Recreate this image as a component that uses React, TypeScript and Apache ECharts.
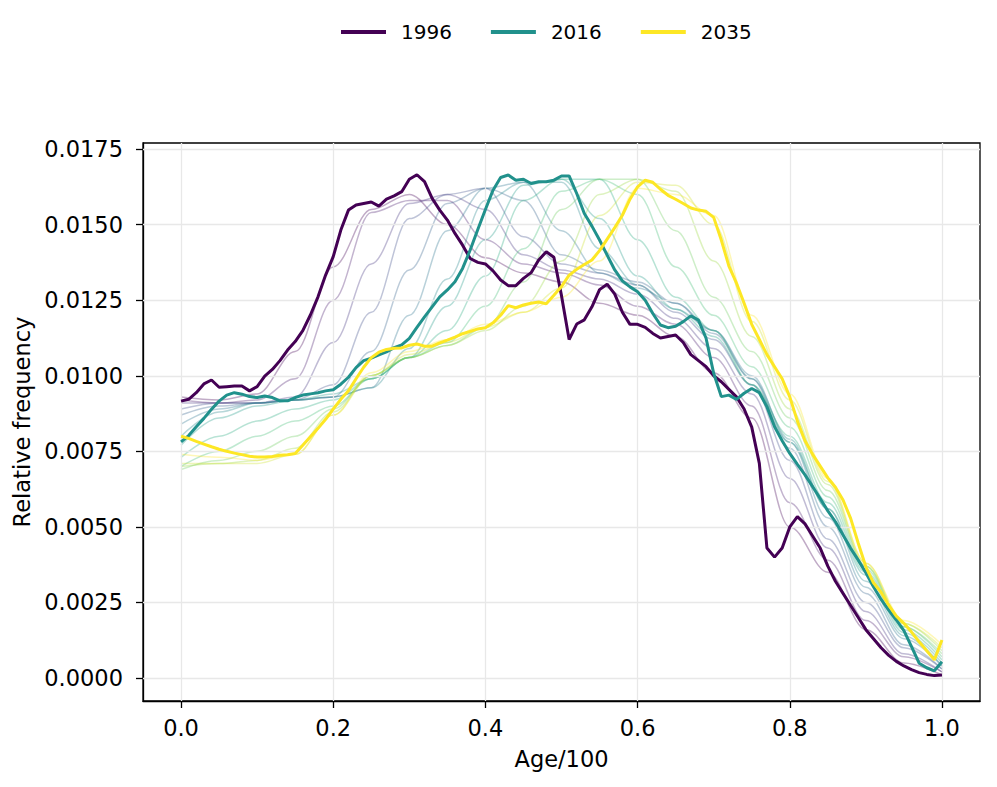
import React, { useEffect, useRef } from "react";
import * as echarts from "echarts";

// ---------- data ----------
const AGES: number[] = Array.from({ length: 101 }, (_, i) => i / 100);

const Y1996 = [
  0.00916, 0.00922, 0.00944, 0.00973, 0.00986, 0.00962, 0.00964, 0.00966, 0.00966, 0.0095,
  0.00964, 0.00999, 0.01021, 0.0105, 0.01085, 0.01113, 0.01149, 0.01201, 0.01261, 0.01333,
  0.01394, 0.01482, 0.01548, 0.01565, 0.0157, 0.01575, 0.01561, 0.01584, 0.01595, 0.01609,
  0.0165, 0.01665, 0.01642, 0.01587, 0.01548, 0.01515, 0.01471, 0.01432, 0.01388, 0.01375,
  0.0137, 0.01347, 0.01317, 0.01298, 0.01298, 0.01322, 0.01341, 0.01383, 0.0141, 0.01392,
  0.01265, 0.0112, 0.01171, 0.01185, 0.01228, 0.01285, 0.01303, 0.0127, 0.0121, 0.0117,
  0.0117, 0.0116, 0.0114, 0.01125, 0.0113, 0.01135, 0.0111, 0.0107, 0.0105, 0.0103,
  0.01, 0.0098, 0.00955, 0.0093, 0.0089, 0.0083, 0.0071, 0.0043, 0.004, 0.0043,
  0.005, 0.00534, 0.0051, 0.0047, 0.0043, 0.0037, 0.0032, 0.0028, 0.0024, 0.002,
  0.0016, 0.0013, 0.001, 0.00075, 0.00055, 0.0004, 0.00028, 0.00018, 0.00012, 0.00008,
  0.0001,
];

const Y2016 = [
  0.00781, 0.00802, 0.00831, 0.00859, 0.00889, 0.00916, 0.00936, 0.00944, 0.00939, 0.00931,
  0.00928, 0.00933, 0.00928, 0.00917, 0.00917, 0.00928, 0.00936, 0.0094, 0.00944, 0.0095,
  0.00954, 0.00972, 0.00995, 0.01027, 0.0105, 0.01058, 0.01069, 0.01079, 0.01093, 0.01102,
  0.01124, 0.0116, 0.01195, 0.01228, 0.01261, 0.01284, 0.01311, 0.01355, 0.01416, 0.01484,
  0.0155, 0.01614, 0.01656, 0.01664, 0.01647, 0.0165, 0.01636, 0.01642, 0.01642, 0.01647,
  0.01661, 0.01661, 0.01603, 0.01537, 0.01495, 0.01449, 0.01399, 0.0135, 0.01314, 0.01294,
  0.01278, 0.0125, 0.01206, 0.01168, 0.01159, 0.01164, 0.01179, 0.01198, 0.01184, 0.01124,
  0.01008, 0.00931, 0.00936, 0.00922, 0.00942, 0.00958, 0.00944, 0.00897, 0.00831, 0.00785,
  0.00743, 0.00707, 0.00672, 0.00633, 0.00594, 0.00553, 0.00517, 0.00473, 0.00429, 0.0039,
  0.00348, 0.00302, 0.0026, 0.00225, 0.00192, 0.00157, 0.00104, 0.00049, 0.00034, 0.00024,
  0.00054,
];

const Y2035 = [
  0.008, 0.00793, 0.00783, 0.00774, 0.00765, 0.00757, 0.0075, 0.00744, 0.00739, 0.00734,
  0.00731, 0.00731, 0.00733, 0.00737, 0.00739, 0.00743, 0.0077, 0.00798, 0.00826, 0.00856,
  0.0089, 0.00922, 0.0095, 0.0099, 0.01028, 0.0106, 0.01078, 0.01087, 0.01091, 0.01092,
  0.01101, 0.01105, 0.01098, 0.01098, 0.01109, 0.01118, 0.01128, 0.01139, 0.01147, 0.01155,
  0.01159, 0.01175, 0.012, 0.01232, 0.01225, 0.01234, 0.0124, 0.01244, 0.01238, 0.01266,
  0.01295, 0.01333, 0.01352, 0.01368, 0.01383, 0.01414, 0.01452, 0.0149, 0.01531, 0.01584,
  0.01625, 0.01647, 0.0164, 0.01617, 0.01597, 0.01584, 0.0157, 0.01555, 0.01548, 0.01544,
  0.01524, 0.01449, 0.01363, 0.01306, 0.0124, 0.0117, 0.0112, 0.0107, 0.0103, 0.0099,
  0.0093, 0.0085, 0.00785, 0.0074, 0.00701, 0.00662, 0.00631, 0.00589, 0.00528, 0.00446,
  0.00368, 0.00315, 0.00284, 0.00241, 0.00205, 0.00181, 0.00152, 0.0012, 0.0009, 0.0006,
  0.00126,
];

const THIN_AGES = [0, 0.05, 0.1, 0.15, 0.2, 0.25, 0.3, 0.35, 0.4, 0.45, 0.5, 0.55, 0.6, 0.65, 0.7, 0.75, 0.8, 0.85, 0.9, 0.95, 1];

const T1996 = [0.0093, 0.0092, 0.0094, 0.0108, 0.0136, 0.0155, 0.016, 0.015, 0.0139, 0.0134, 0.0131, 0.0124, 0.012, 0.0113, 0.0101, 0.0086, 0.005, 0.0035, 0.0016, 0.0005, 0.0001];
const T1999 = [0.0092, 0.0091, 0.0092, 0.0099, 0.0125, 0.0154, 0.0158, 0.0158, 0.0145, 0.0137, 0.0134, 0.013, 0.0123, 0.0117, 0.0106, 0.009, 0.0058, 0.0039, 0.0019, 0.0007, 0.0002];
const T2002 = [0.0091, 0.0091, 0.0091, 0.0093, 0.0111, 0.0137, 0.0157, 0.016, 0.0155, 0.014, 0.0135, 0.0132, 0.0127, 0.0119, 0.0109, 0.0094, 0.0066, 0.0043, 0.0022, 0.0008, 0.0002];
const T2005 = [0.0089, 0.0091, 0.0091, 0.0092, 0.0097, 0.0121, 0.0152, 0.016, 0.0162, 0.0146, 0.0137, 0.0134, 0.013, 0.0121, 0.0112, 0.0097, 0.0072, 0.0046, 0.0025, 0.001, 0.0003];
const T2008 = [0.0087, 0.009, 0.0091, 0.0092, 0.0093, 0.0108, 0.0135, 0.0157, 0.0162, 0.0158, 0.014, 0.0135, 0.0131, 0.0124, 0.0114, 0.0099, 0.0076, 0.005, 0.0028, 0.0011, 0.0003];
const T2011 = [0.0084, 0.0089, 0.0091, 0.0092, 0.0093, 0.0096, 0.012, 0.0148, 0.0162, 0.0164, 0.0148, 0.0134, 0.0129, 0.0124, 0.0115, 0.01, 0.0078, 0.0053, 0.003, 0.0013, 0.0004];
const T2014 = [0.008, 0.0088, 0.0091, 0.0092, 0.0093, 0.0096, 0.0109, 0.0132, 0.0158, 0.0164, 0.0164, 0.0142, 0.013, 0.0122, 0.0115, 0.0099, 0.0079, 0.0056, 0.0032, 0.0014, 0.0004];
const T2017 = [0.0077, 0.0086, 0.009, 0.0092, 0.0094, 0.0099, 0.0106, 0.0123, 0.0145, 0.0163, 0.0165, 0.0152, 0.0133, 0.0122, 0.0113, 0.0097, 0.0078, 0.0056, 0.0034, 0.0015, 0.0005];
const T2020 = [0.0073, 0.008, 0.0085, 0.0089, 0.0092, 0.0099, 0.0106, 0.0115, 0.0133, 0.0158, 0.0165, 0.0165, 0.0145, 0.0126, 0.0115, 0.0097, 0.008, 0.0058, 0.0035, 0.0016, 0.0006];
const T2023 = [0.007, 0.0075, 0.008, 0.0085, 0.009, 0.0099, 0.0106, 0.0111, 0.0123, 0.0142, 0.0161, 0.0165, 0.016, 0.0136, 0.012, 0.0103, 0.0083, 0.006, 0.0036, 0.0017, 0.0007];
const T2026 = [0.0069, 0.0072, 0.0075, 0.008, 0.0089, 0.01, 0.0106, 0.011, 0.0116, 0.0131, 0.0155, 0.0165, 0.0165, 0.0148, 0.0126, 0.0108, 0.0086, 0.0062, 0.0037, 0.0017, 0.0008];
const T2029 = [0.007, 0.0071, 0.0072, 0.0076, 0.0088, 0.01, 0.0106, 0.011, 0.0115, 0.0123, 0.0138, 0.016, 0.0165, 0.0161, 0.0138, 0.0113, 0.0089, 0.0064, 0.0037, 0.0018, 0.0009];
const T2032 = [0.0071, 0.0071, 0.0071, 0.0074, 0.0087, 0.01, 0.0107, 0.0111, 0.0116, 0.0121, 0.0129, 0.0153, 0.0164, 0.0163, 0.015, 0.0118, 0.0092, 0.0065, 0.0038, 0.0018, 0.001];
const T2035 = [0.0074, 0.0073, 0.0072, 0.0074, 0.0087, 0.0101, 0.0108, 0.0112, 0.0117, 0.0121, 0.0126, 0.0138, 0.0162, 0.016, 0.0153, 0.012, 0.0094, 0.0066, 0.0038, 0.0019, 0.0011];

const THIN_YEARS = [1996, 1999, 2002, 2005, 2008, 2011, 2014, 2017, 2020, 2023, 2026, 2029, 2032, 2035];
const THIN_VALUES = [T1996, T1999, T2002, T2005, T2008, T2011, T2014, T2017, T2020, T2023, T2026, T2029, T2032, T2035];
const THIN_COLORS = ["#440154", "#481c6e", "#44357f", "#3d4c89", "#34618d", "#2c748e", "#24878d", "#219a89", "#27ab81", "#41bd72", "#69cb5b", "#99d73d", "#cce126", "#fde725"];

const MAIN_NAMES = ["1996", "2016", "2035"];
const MAIN_VALUES = [Y1996, Y2016, Y2035];
const MAIN_COLORS = ["#440154", "#21918c", "#fde725"];

const X_TICKS = [0, 0.2, 0.4, 0.6, 0.8, 1.0];
const Y_TICKS = [0, 0.0025, 0.005, 0.0075, 0.01, 0.0125, 0.015, 0.0175];
const X_MIN = -0.05;
const X_MAX = 1.05;
const Y_MIN = -0.00076;
const Y_MAX = 0.0177;

const FONT = "DejaVu Sans";

export default function App() {
  const ref = useRef<HTMLDivElement>(null);

  useEffect(() => {
    document.body.style.margin = "0";
    if (!ref.current) return;
    const chart = echarts.init(ref.current, undefined, { renderer: "svg" });

    const thinSeries = THIN_VALUES.map((vals, i) => ({
      name: "thin-" + THIN_YEARS[i],
      type: "line",
      data: THIN_AGES.map((a, j) => [a, vals[j]]),
      smooth: 0.35,
      smoothMonotone: "x",
      symbol: "none",
      silent: true,
      z: 3,
      lineStyle: { color: THIN_COLORS[i], width: 1.5, opacity: 0.33 },
      itemStyle: { color: THIN_COLORS[i] },
    }));

    const mainSeries = MAIN_VALUES.map((vals, i) => ({
      name: MAIN_NAMES[i],
      type: "line",
      data: AGES.map((a, j) => [a, vals[j]]),
      symbol: "none",
      z: 5 + i,
      lineStyle: { color: MAIN_COLORS[i], width: 3 },
      itemStyle: { color: MAIN_COLORS[i] },
    }));

    const gridSeries = {
      name: "grid",
      type: "line",
      data: [],
      silent: true,
      z: 1,
      markLine: {
        silent: true,
        symbol: ["none", "none"],
        label: { show: false },
        animation: false,
        lineStyle: { color: "#e8e8e8", width: 1.3, type: "solid" },
        emphasis: { disabled: true },
        data: [
          ...X_TICKS.map((v) => [{ coord: [v, Y_MIN] }, { coord: [v, Y_MAX] }]),
          ...Y_TICKS.map((v) => [{ coord: [X_MIN, v] }, { coord: [X_MAX, v] }]),
        ],
      },
    };

    const option = {
      animation: false,
      textStyle: { fontFamily: FONT },
      legend: {
        data: MAIN_NAMES,
        top: 22,
        left: 341,
        padding: 0,
        icon: "rect",
        itemWidth: 45,
        itemHeight: 3.8,
        itemGap: 39,
        selectedMode: false,
        textStyle: { fontSize: 20, color: "#000", fontFamily: FONT, padding: [0, 0, 0, 10] },
      },
      grid: {
        left: 143,
        top: 143,
        right: 17,
        bottom: 86,
        show: true,
        borderColor: "#000",
        borderWidth: 1.3,
        backgroundColor: "transparent",
      },
      xAxis: {
        type: "value",
        min: X_MIN,
        max: X_MAX,
        name: "Age/100",
        nameLocation: "middle",
        nameGap: 46,
        nameTextStyle: { fontSize: 22.5, color: "#000", fontFamily: FONT },
        axisLine: { show: true, onZero: false, lineStyle: { color: "#000", width: 1.3 } },
        axisTick: { show: true, length: 7, customValues: X_TICKS, lineStyle: { color: "#000", width: 1.3 } },
        axisLabel: {
          customValues: X_TICKS,
          fontSize: 22.5,
          color: "#000",
          fontFamily: FONT,
          margin: 15,
          formatter: (v: number) => v.toFixed(1),
        },
        splitLine: { show: false },
      },
      yAxis: {
        type: "value",
        min: Y_MIN,
        max: Y_MAX,
        name: "Relative frequency",
        nameLocation: "middle",
        nameGap: 102,
        nameTextStyle: { fontSize: 22.5, color: "#000", fontFamily: FONT },
        axisLine: { show: true, onZero: false, lineStyle: { color: "#000", width: 1.3 } },
        axisTick: { show: true, length: 7, customValues: Y_TICKS, lineStyle: { color: "#000", width: 1.3 } },
        axisLabel: {
          customValues: Y_TICKS,
          fontSize: 22.5,
          color: "#000",
          fontFamily: FONT,
          margin: 20,
          formatter: (v: number) => v.toFixed(4),
        },
        splitLine: { show: false },
      },
      series: [gridSeries, ...thinSeries, ...mainSeries],
    };

    chart.setOption(option as any);
    return () => chart.dispose();
  }, []);

  return <div ref={ref} style={{ width: 997, height: 787 }} />;
}
